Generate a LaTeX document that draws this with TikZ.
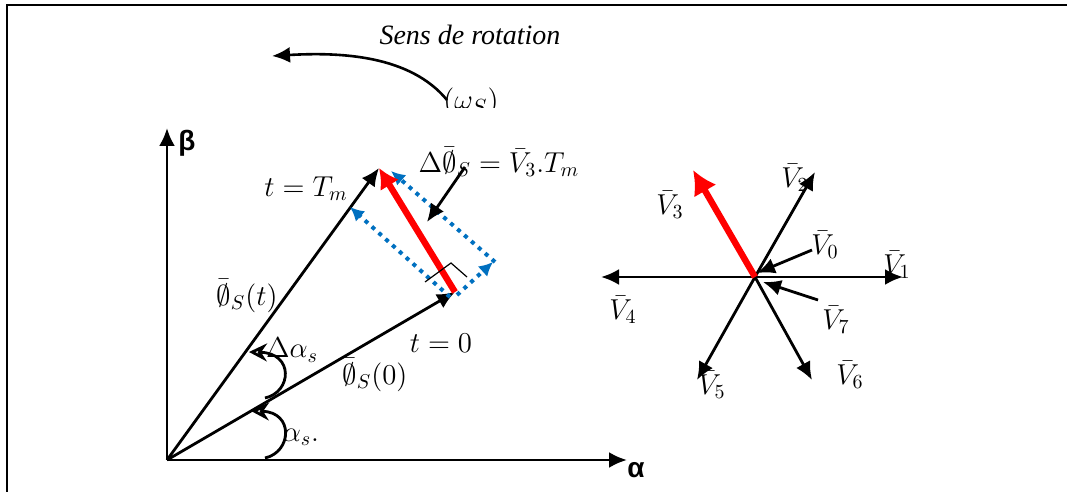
\documentclass[tikz,border=0pt]{standalone}
\usepackage{amsmath,amssymb}
\usepackage{fontspec}
\setmainfont{Liberation Serif}
\newfontfamily\axisfont{Liberation Sans}
\usepackage{tikz}
\usetikzlibrary{arrows.meta}
\definecolor{vred}{RGB}{255,0,0}
\definecolor{vblue}{RGB}{0,112,192}
\newcommand{\phis}{\bar{\emptyset}_S}

\begin{document}
\begin{tikzpicture}[x=0.5pt,y=-0.5pt,
  font=\fontsize{14}{16}\selectfont,
  lbl/.style={inner sep=0pt},
  axis/.style={line width=1.4pt,-{Latex[length=9pt,width=8pt]}},
  vec/.style={line width=1.4pt,-{Latex[length=9pt,width=8pt]}},
  redvec/.style={line width=3.2pt,draw=vred,-{Latex[length=10pt,width=11pt]}},
  comp/.style={line width=2pt,draw=vblue,dash pattern=on 2pt off 2.6pt,
    -{Latex[length=7pt,width=7pt]}},
  turn/.style={line width=1.4pt,-{Stealth[open,length=9pt,width=9pt,inset=3pt]}}]
\useasboundingbox (0,0) rectangle (1067,492);
\draw[line width=1pt] (7,492) -- (7,5) -- (1067,5);
% rotation sense
\node[lbl,font=\fontsize{14}{16}\selectfont\itshape] (sens) at (470,35) {Sens de rotation};
\coordinate (rotA) at (447,100);
\coordinate (rotB) at (272,56);
\draw[line width=1.3pt,-{Latex[length=9pt,width=8pt]}] (rotA) .. controls (410,55) and (340,52) .. (rotB);
\begin{scope}
\clip (420,80) rectangle (540,108);
\node[lbl,font=\fontsize{15}{17}\selectfont] (omega) at (471,102) {$(\omega_S)$};
\end{scope}
% axes
\coordinate (O) at (167,460);
\coordinate (Ob) at (167,128);
\coordinate (Oa) at (627,460);
\draw[axis] (O) -- (Ob);
\draw[axis] (O) -- (Oa);
\node[lbl,font=\fontsize{14}{16}\selectfont\axisfont\bfseries] (beta) at (187,143) {β};
\node[lbl,font=\fontsize{14}{16}\selectfont\axisfont\bfseries] (alpha) at (636,470) {α};
% flux vectors
\coordinate (Pt) at (379,168);
\coordinate (P0) at (455,292);
\draw[vec] (O) -- (Pt);
\draw[vec] (O) -- (P0);
\node[lbl] (tTm) at (306,189) {$t = T_m$};
\node[lbl] (phit) at (247,296) {$\phis(t)$};
\node[lbl] (t0) at (441,343) {$t = 0$};
\node[lbl] (phi0) at (375,375) {$\phis(0)$};
% components
\draw[comp] (450,297) -- (350,207);
\draw[comp] (457,295) -- (493,262);
\draw[comp] (495,262) -- (391,171);
\draw[redvec] (P0) -- (Pt);
\draw[line width=0.6pt] (425,282) -- (451,263) -- (467,277);
\node[lbl] (dphi) at (499,162) {$\Delta\phis = \bar{V}_3 . T_m$};
\coordinate (dphiA) at (465,167);
\coordinate (dphiB) at (427,222);
\draw[vec] (dphiA) -- (dphiB);
% angles
\draw[turn] (265,458) .. controls (292,452) and (294,412) .. (251,411);
\draw[turn] (265,398) .. controls (292,392) and (294,353) .. (249,352);
\node[lbl] (dalpha) at (292,350) {$\Delta\alpha_s$};
\node[lbl] (alphas) at (301,437) {$\alpha_s.$};
% voltage vectors
\coordinate (C) at (755,277);
\draw[vec] (C) -- (903,277);
\draw[vec] (C) -- (815,172);
\draw[vec] (C) -- (601,277);
\draw[vec] (C) -- (697,380);
\draw[vec] (C) -- (812,380);
\draw[vec] (812,250) -- (757,273);
\draw[vec] (818,300) -- (763,282);
\draw[redvec,-{Latex[length=12pt,width=13pt]}] (C) -- (693,170);
\node[lbl] (V1) at (897,265) {$\bar{V}_1$};
\node[lbl] (V2) at (795,178) {$\bar{V}_2$};
\node[lbl] (V3) at (670,205) {$\bar{V}_3$};
\node[lbl] (V4) at (623,310) {$\bar{V}_4$};
\node[lbl] (V5) at (712,385) {$\bar{V}_5$};
\node[lbl] (V6) at (850,375) {$\bar{V}_6$};
\node[lbl] (V0) at (825,245) {$\bar{V}_0$};
\node[lbl] (V7) at (836,320) {$\bar{V}_7$};
\end{tikzpicture}
\end{document}
